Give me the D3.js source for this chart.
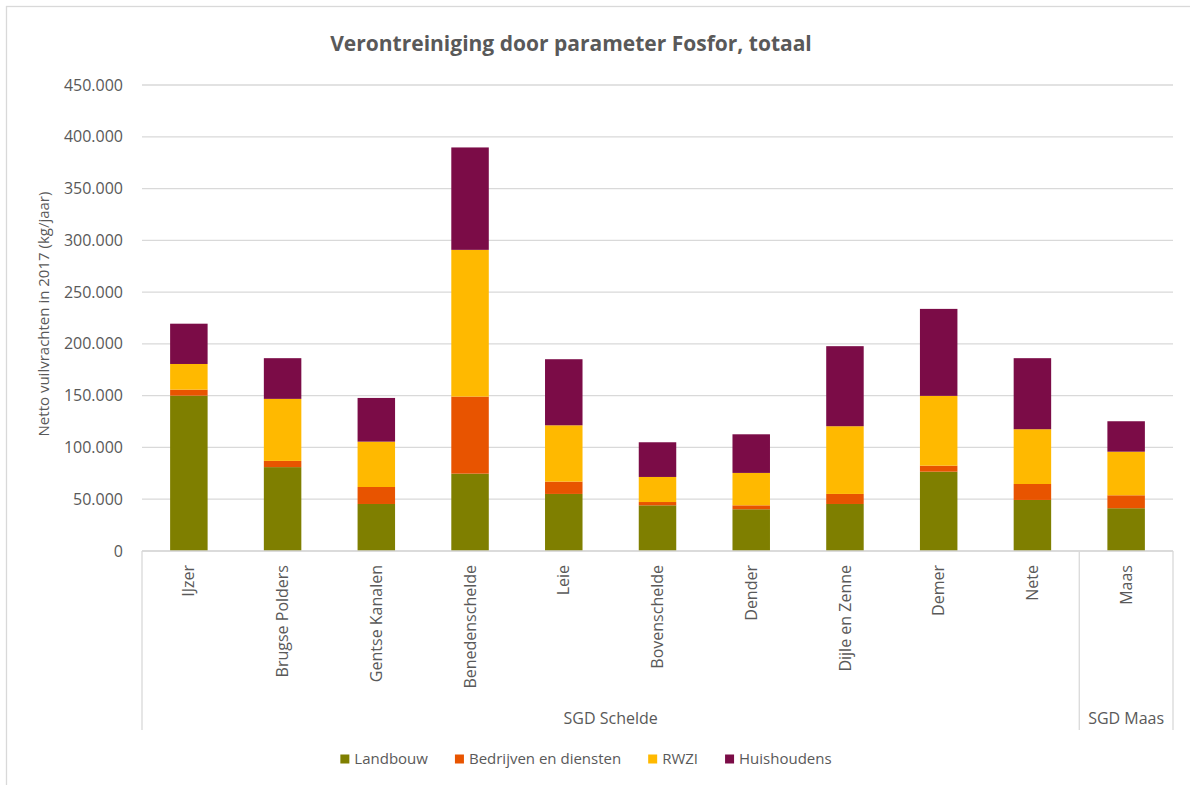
<!DOCTYPE html>
<html>
<head>
<meta charset="utf-8">
<script src="https://cdn.jsdelivr.net/npm/d3@7"></script>
<style>
  body { margin: 0; background: #fff; }
  text { font-family: "Open Sans", sans-serif; fill: #595959; }
</style>
</head>
<body>
<div id="chart"></div>
<script>
// categories and groups
var categories = ["IJzer", "Brugse Polders", "Gentse Kanalen", "Benedenschelde", "Leie",
  "Bovenschelde", "Dender", "Dijle en Zenne", "Demer", "Nete", "Maas"];
var groups = [
  { name: "SGD Schelde", first: "IJzer", last: "Nete" },
  { name: "SGD Maas", first: "Maas", last: "Maas" }
];
var seriesNames = ["Landbouw", "Bedrijven en diensten", "RWZI", "Huishoudens"];
var colors = ["#7F7F00", "#E85400", "#FFB900", "#7B0C47"];

// series values (kg/jaar)
var landbouw = [150000, 81000, 45400, 74700, 55100, 44100, 40300, 45400, 76600, 49300, 41300];
var bedrijven = [5800, 6000, 16400, 74400, 11900, 3200, 3800, 9700, 5800, 15400, 12500];
var rwzi = [24800, 59900, 43800, 141700, 54400, 24200, 31300, 65400, 67400, 52900, 42100];
var huishoudens = [38900, 39300, 42200, 98900, 63800, 33500, 37300, 77300, 84000, 68600, 29400];

var yTicks = [0, 50000, 100000, 150000, 200000, 250000, 300000, 350000, 400000, 450000];

var width = 1190;
var height = 785;
var margin = { top: 85, right: 17, bottom: 234, left: 142 };

var table = categories.map(function (c, i) {
  return { cat: c, Landbouw: landbouw[i], "Bedrijven en diensten": bedrijven[i], RWZI: rwzi[i], Huishoudens: huishoudens[i] };
});

var svg = d3.select("#chart").append("svg")
  .attr("width", width)
  .attr("height", height);

// outer chart border
svg.append("rect")
  .attr("x", 6.5).attr("y", 6.5)
  .attr("width", 1200).attr("height", 800)
  .attr("fill", "none")
  .attr("stroke", "#d9d9d9")
  .attr("stroke-width", 1.3);

var x = d3.scaleBand()
  .domain(categories)
  .range([margin.left, width - margin.right])
  .paddingInner(0.6)
  .paddingOuter(0.3);

var y = d3.scaleLinear()
  .domain([0, 450000])
  .range([height - margin.bottom, margin.top]);

var fmt = function (d) { return d3.format(",")(d).replace(/,/g, "."); };

// gridlines
svg.append("g").selectAll("line")
  .data(yTicks)
  .enter().append("line")
  .attr("x1", margin.left).attr("x2", width - margin.right)
  .attr("y1", d => y(d)).attr("y2", d => y(d))
  .attr("stroke", "#d9d9d9")
  .attr("stroke-width", 1.3);

// y tick labels
svg.append("g").selectAll("text")
  .data(yTicks)
  .enter().append("text")
  .attr("x", 123)
  .attr("y", d => y(d))
  .attr("dy", "0.35em")
  .attr("text-anchor", "end")
  .style("font-size", "16px")
  .text(fmt);

// y axis title
svg.append("text")
  .attr("transform", "translate(49,314) rotate(-90)")
  .attr("text-anchor", "middle")
  .style("font-size", "15px")
  .text("Netto vuilvrachten in 2017 (kg/jaar)");

// stacked bars
var stack = d3.stack().keys(seriesNames);
var layers = stack(table);

svg.append("g").selectAll("g")
  .data(layers)
  .enter().append("g")
  .attr("fill", (d, i) => colors[i])
  .selectAll("rect")
  .data(d => d)
  .enter().append("rect")
  .attr("x", d => x(d.data.cat))
  .attr("y", d => y(d[1]))
  .attr("width", x.bandwidth())
  .attr("height", d => y(d[0]) - y(d[1]));

// category axis
var base = y(0);
var step = x.step();
var sepBottom = 730;
svg.append("line")
  .attr("x1", margin.left).attr("x2", width - margin.right)
  .attr("y1", base).attr("y2", base)
  .attr("stroke", "#d9d9d9").attr("stroke-width", 1.3);

// group boundaries: left edge of first band, right edge of last band
function bandLeft(c) { return x(c) + x.bandwidth() / 2 - step / 2; }
function bandRight(c) { return x(c) + x.bandwidth() / 2 + step / 2; }

var sepX = [bandLeft(groups[0].first)];
groups.forEach(g => sepX.push(bandRight(g.last)));

svg.append("g").selectAll("line")
  .data(sepX)
  .enter().append("line")
  .attr("x1", d => d).attr("x2", d => d)
  .attr("y1", base).attr("y2", sepBottom)
  .attr("stroke", "#d9d9d9").attr("stroke-width", 1.3);

// category labels (rotated)
svg.append("g").selectAll("text")
  .data(categories)
  .enter().append("text")
  .attr("transform", d => "translate(" + (x(d) + x.bandwidth() / 2) + ",565) rotate(-90)")
  .attr("dy", "0.35em")
  .attr("text-anchor", "end")
  .style("font-size", "16px")
  .text(d => d);

// group labels
svg.append("g").selectAll("text")
  .data(groups)
  .enter().append("text")
  .attr("x", d => (bandLeft(d.first) + bandRight(d.last)) / 2)
  .attr("y", 724)
  .attr("text-anchor", "middle")
  .style("font-size", "16px")
  .text(d => d.name);

// title
svg.append("text")
  .attr("x", 571)
  .attr("y", 51)
  .attr("text-anchor", "middle")
  .style("font-size", "21px")
  .style("font-weight", "bold")
  .text("Verontreiniging door parameter Fosfor, totaal");

// legend
var legend = svg.append("g");
var lx = 0;
var items = legend.selectAll("g")
  .data(seriesNames)
  .enter().append("g");
items.append("rect")
  .attr("width", 9).attr("height", 9)
  .attr("y", -4.5)
  .attr("fill", (d, i) => colors[i]);
items.append("text")
  .attr("x", 14)
  .attr("dy", "0.35em")
  .style("font-size", "15px")
  .text(d => d);
items.each(function () {
  var w = d3.select(this).select("text").node().getComputedTextLength();
  d3.select(this).attr("transform", "translate(" + lx + ",0)");
  lx += 14 + w + 27;
});
var legendW = lx - 27;
legend.attr("transform", "translate(" + (586 - legendW / 2) + ",759)");
</script>
</body>
</html>
